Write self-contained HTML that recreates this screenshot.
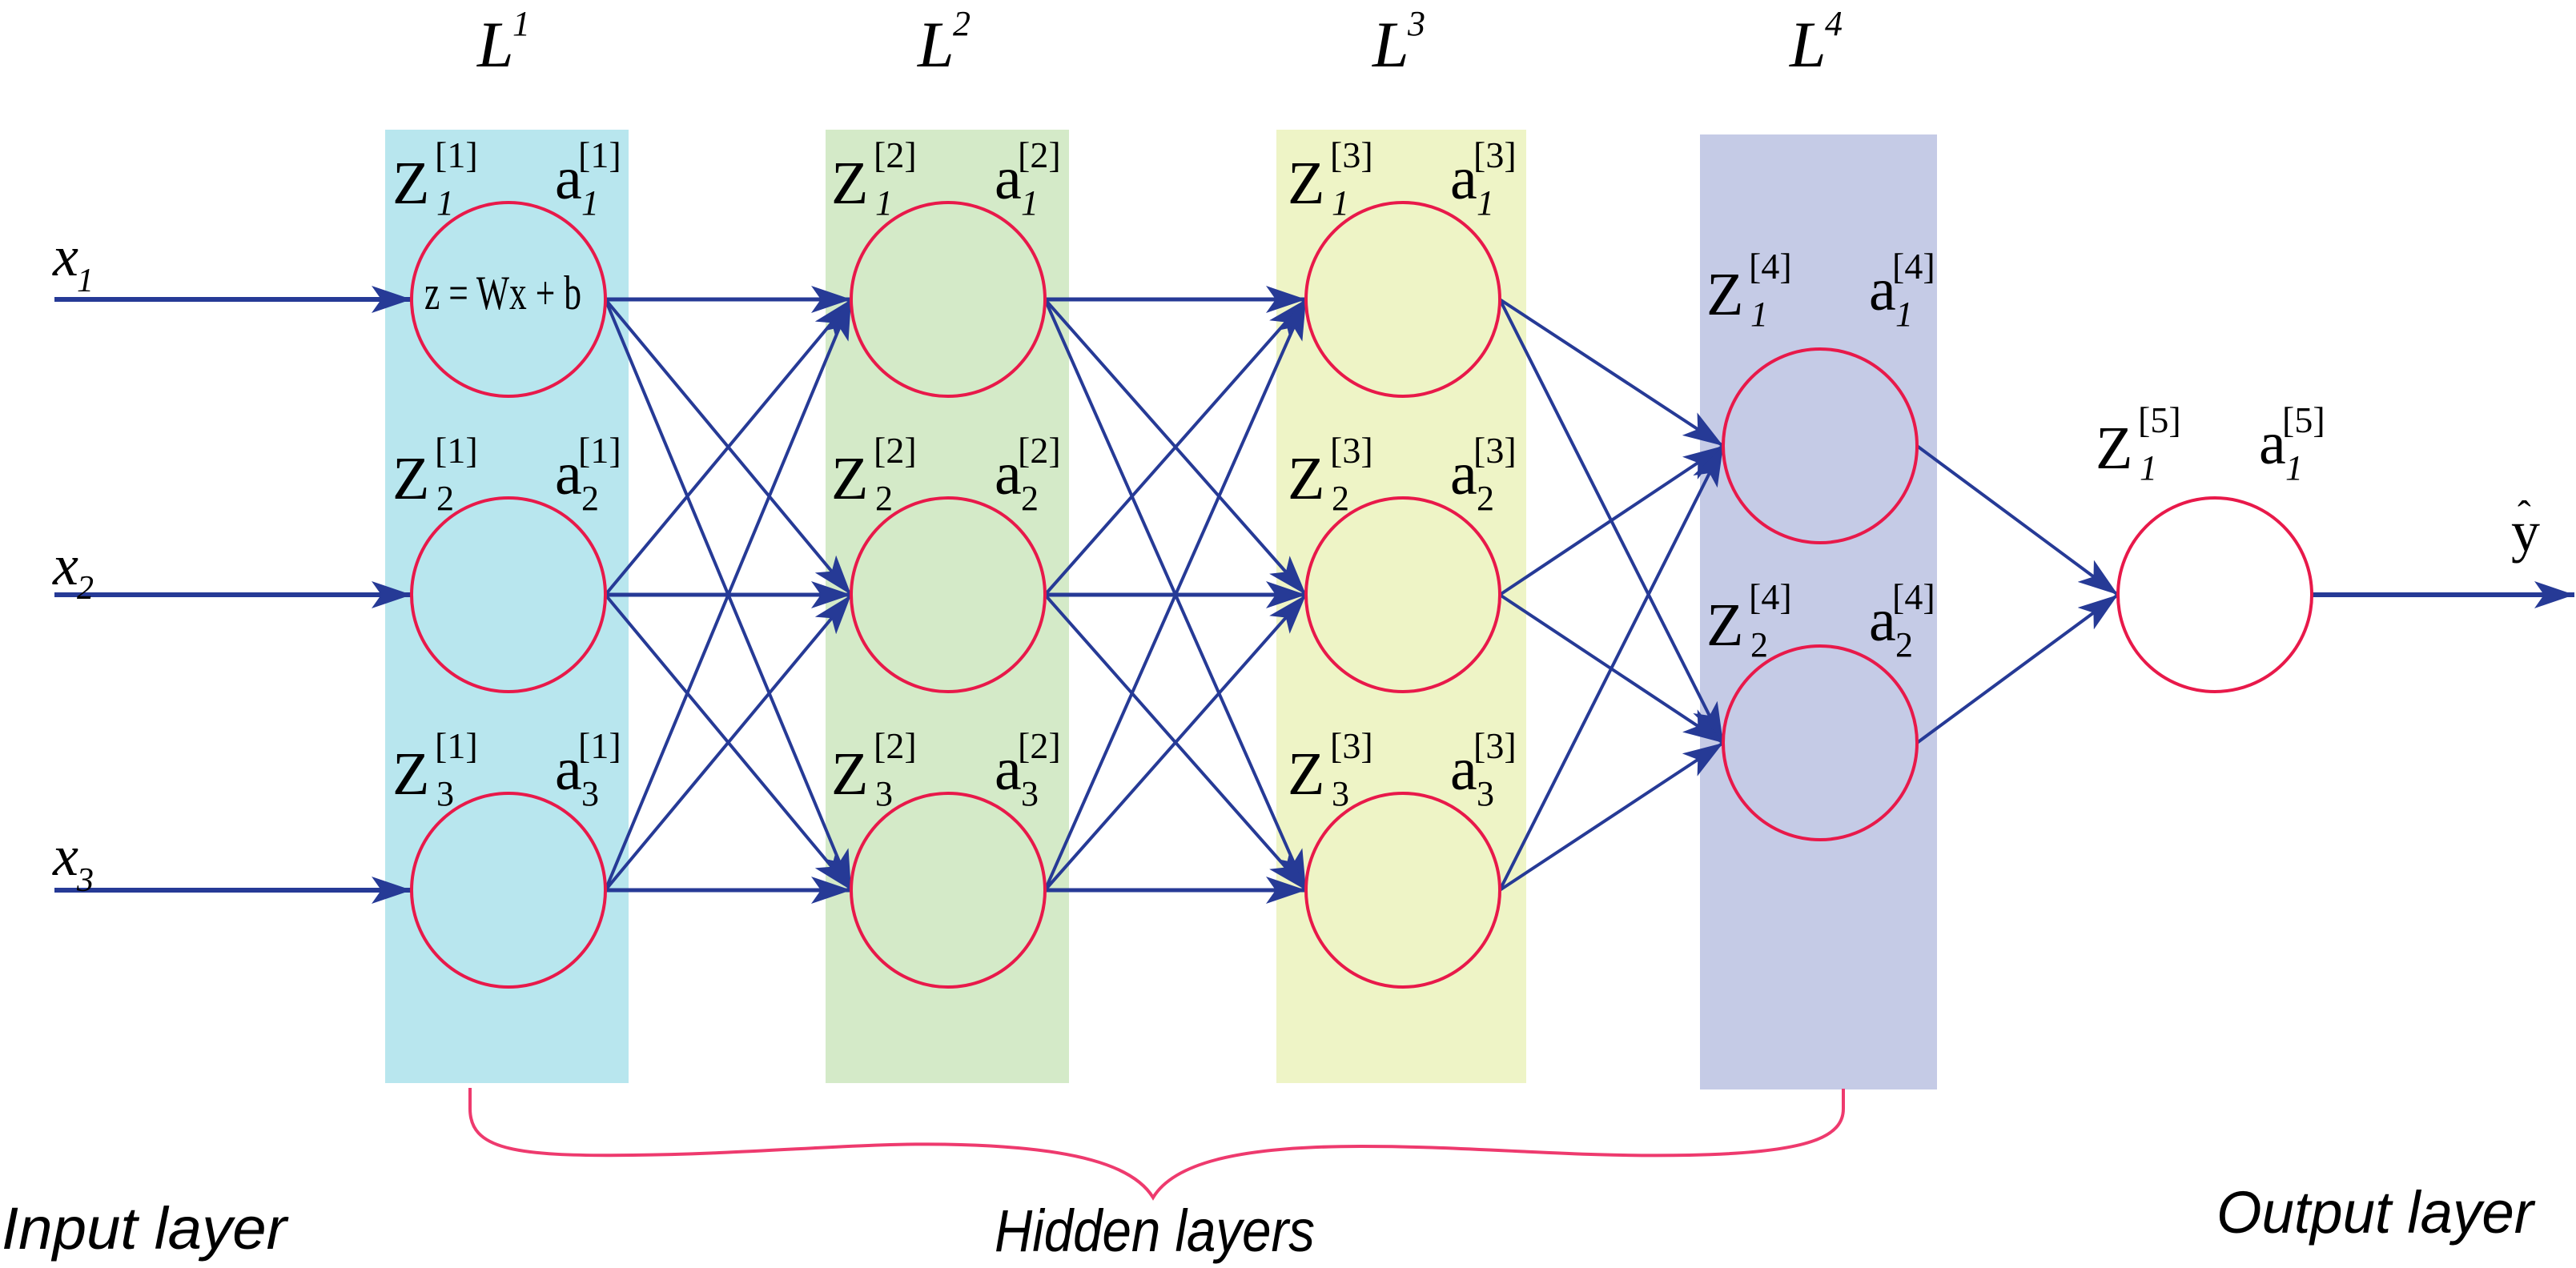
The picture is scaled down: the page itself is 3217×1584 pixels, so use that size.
<!DOCTYPE html>
<html><head><meta charset="utf-8"><style>
html,body{margin:0;padding:0;background:#fff}
svg{display:block}
</style></head><body>
<svg width="3217" height="1584" viewBox="0 0 3217 1584" xmlns="http://www.w3.org/2000/svg">
<defs>
<marker id="ah" markerUnits="userSpaceOnUse" markerWidth="52" markerHeight="34" refX="50" refY="17" orient="auto">
<path d="M0,0 L50,17 L0,34 L12,17 Z" fill="#263a96"/>
</marker>
</defs>
<rect x="481" y="162" width="304" height="1191" fill="#b8e6ee"/>
<rect x="1031" y="162" width="304" height="1191" fill="#d4eac8"/>
<rect x="1594" y="162" width="312" height="1191" fill="#eef4c6"/>
<rect x="2123" y="168" width="296" height="1193" fill="#c5cbe6"/>

<g stroke="#263a96" fill="none" marker-end="url(#ah)">
<line x1="68" y1="374" x2="514" y2="374" stroke-width="6"/>
<line x1="68" y1="743" x2="514" y2="743" stroke-width="6"/>
<line x1="68" y1="1112" x2="514" y2="1112" stroke-width="6"/>
<line x1="756" y1="374" x2="1063" y2="374" stroke-width="5"/>
<line x1="756" y1="374" x2="1063" y2="743" stroke-width="4"/>
<line x1="756" y1="374" x2="1063" y2="1112" stroke-width="4"/>
<line x1="756" y1="743" x2="1063" y2="374" stroke-width="4"/>
<line x1="756" y1="743" x2="1063" y2="743" stroke-width="5"/>
<line x1="756" y1="743" x2="1063" y2="1112" stroke-width="4"/>
<line x1="756" y1="1112" x2="1063" y2="374" stroke-width="4"/>
<line x1="756" y1="1112" x2="1063" y2="743" stroke-width="4"/>
<line x1="756" y1="1112" x2="1063" y2="1112" stroke-width="5"/>
<line x1="1305" y1="374" x2="1631" y2="374" stroke-width="5"/>
<line x1="1305" y1="374" x2="1631" y2="743" stroke-width="4"/>
<line x1="1305" y1="374" x2="1631" y2="1112" stroke-width="4"/>
<line x1="1305" y1="743" x2="1631" y2="374" stroke-width="4"/>
<line x1="1305" y1="743" x2="1631" y2="743" stroke-width="5"/>
<line x1="1305" y1="743" x2="1631" y2="1112" stroke-width="4"/>
<line x1="1305" y1="1112" x2="1631" y2="374" stroke-width="4"/>
<line x1="1305" y1="1112" x2="1631" y2="743" stroke-width="4"/>
<line x1="1305" y1="1112" x2="1631" y2="1112" stroke-width="5"/>
<line x1="1873" y1="374" x2="2152" y2="557" stroke-width="4"/>
<line x1="1873" y1="374" x2="2152" y2="928" stroke-width="4"/>
<line x1="1873" y1="743" x2="2152" y2="557" stroke-width="4"/>
<line x1="1873" y1="743" x2="2152" y2="928" stroke-width="4"/>
<line x1="1873" y1="1112" x2="2152" y2="557" stroke-width="4"/>
<line x1="1873" y1="1112" x2="2152" y2="928" stroke-width="4"/>
<line x1="2394" y1="557" x2="2645" y2="743" stroke-width="4"/>
<line x1="2394" y1="928" x2="2645" y2="743" stroke-width="4"/>
<line x1="2887" y1="743" x2="3215" y2="743" stroke-width="6"/>
</g>

<g stroke="#e8194a" stroke-width="4">
<circle cx="635" cy="374" r="121" fill="#b8e6ee"/>
<circle cx="635" cy="743" r="121" fill="#b8e6ee"/>
<circle cx="635" cy="1112" r="121" fill="#b8e6ee"/>
<circle cx="1184" cy="374" r="121" fill="#d4eac8"/>
<circle cx="1184" cy="743" r="121" fill="#d4eac8"/>
<circle cx="1184" cy="1112" r="121" fill="#d4eac8"/>
<circle cx="1752" cy="374" r="121" fill="#eef4c6"/>
<circle cx="1752" cy="743" r="121" fill="#eef4c6"/>
<circle cx="1752" cy="1112" r="121" fill="#eef4c6"/>
<circle cx="2273" cy="557" r="121" fill="#c5cbe6"/>
<circle cx="2273" cy="928" r="121" fill="#c5cbe6"/>
<circle cx="2766" cy="743" r="121" fill="#fff"/>
</g>

<g font-family="Liberation Serif, serif">
<text x="530" y="386" font-size="60" textLength="196" lengthAdjust="spacingAndGlyphs">z = Wx + b</text>

<g font-style="italic" font-size="82">
<text x="596" y="83">L</text><text x="640" y="44" font-size="44">1</text>
<text x="1146" y="83">L</text><text x="1190" y="44" font-size="44">2</text>
<text x="1714" y="83">L</text><text x="1758" y="44" font-size="44">3</text>
<text x="2235" y="83">L</text><text x="2279" y="44" font-size="44">4</text>
</g>

<g font-style="italic" font-size="72">
<text x="66" y="344">x</text><text x="96" y="364" font-size="42">1</text>
<text x="66" y="730">x</text><text x="96" y="748" font-size="42">2</text>
<text x="66" y="1093">x</text><text x="96" y="1113" font-size="42">3</text>
</g>

<g font-size="76">
<text x="490" y="254">Z</text><text x="543" y="209" font-size="46">[1]</text><text font-style="italic" x="545" y="268" font-size="44">1</text>
<text x="693" y="248">a</text><text x="722" y="209" font-size="46">[1]</text><text font-style="italic" x="726" y="268" font-size="44">1</text>
<text x="490" y="623">Z</text><text x="543" y="578" font-size="46">[1]</text><text x="545" y="637" font-size="44">2</text>
<text x="693" y="617">a</text><text x="722" y="578" font-size="46">[1]</text><text x="726" y="637" font-size="44">2</text>
<text x="490" y="992">Z</text><text x="543" y="947" font-size="46">[1]</text><text x="545" y="1006" font-size="44">3</text>
<text x="693" y="986">a</text><text x="722" y="947" font-size="46">[1]</text><text x="726" y="1006" font-size="44">3</text>

<text x="1038" y="254">Z</text><text x="1091" y="209" font-size="46">[2]</text><text font-style="italic" x="1093" y="268" font-size="44">1</text>
<text x="1242" y="248">a</text><text x="1271" y="209" font-size="46">[2]</text><text font-style="italic" x="1275" y="268" font-size="44">1</text>
<text x="1038" y="623">Z</text><text x="1091" y="578" font-size="46">[2]</text><text x="1093" y="637" font-size="44">2</text>
<text x="1242" y="617">a</text><text x="1271" y="578" font-size="46">[2]</text><text x="1275" y="637" font-size="44">2</text>
<text x="1038" y="992">Z</text><text x="1091" y="947" font-size="46">[2]</text><text x="1093" y="1006" font-size="44">3</text>
<text x="1242" y="986">a</text><text x="1271" y="947" font-size="46">[2]</text><text x="1275" y="1006" font-size="44">3</text>

<text x="1608" y="254">Z</text><text x="1661" y="209" font-size="46">[3]</text><text font-style="italic" x="1663" y="268" font-size="44">1</text>
<text x="1811" y="248">a</text><text x="1840" y="209" font-size="46">[3]</text><text font-style="italic" x="1844" y="268" font-size="44">1</text>
<text x="1608" y="623">Z</text><text x="1661" y="578" font-size="46">[3]</text><text x="1663" y="637" font-size="44">2</text>
<text x="1811" y="617">a</text><text x="1840" y="578" font-size="46">[3]</text><text x="1844" y="637" font-size="44">2</text>
<text x="1608" y="992">Z</text><text x="1661" y="947" font-size="46">[3]</text><text x="1663" y="1006" font-size="44">3</text>
<text x="1811" y="986">a</text><text x="1840" y="947" font-size="46">[3]</text><text x="1844" y="1006" font-size="44">3</text>

<text x="2131" y="393">Z</text><text x="2184" y="348" font-size="46">[4]</text><text font-style="italic" x="2186" y="407" font-size="44">1</text>
<text x="2334" y="387">a</text><text x="2363" y="348" font-size="46">[4]</text><text font-style="italic" x="2367" y="407" font-size="44">1</text>
<text x="2131" y="806">Z</text><text x="2184" y="761" font-size="46">[4]</text><text x="2186" y="820" font-size="44">2</text>
<text x="2334" y="800">a</text><text x="2363" y="761" font-size="46">[4]</text><text x="2367" y="820" font-size="44">2</text>

<text x="2617" y="585">Z</text><text x="2670" y="540" font-size="46">[5]</text><text font-style="italic" x="2672" y="599" font-size="44">1</text>
<text x="2821" y="579">a</text><text x="2850" y="540" font-size="46">[5]</text><text font-style="italic" x="2854" y="599" font-size="44">1</text>
</g>
<text x="3136" y="688" font-size="72">y</text>
<text x="3144" y="660" font-size="50">ˆ</text>
</g>

<path d="M587,1359 L587,1385 C587,1435 640,1445 790,1443 C960,1441 1080,1426 1200,1430 C1340,1434 1415,1455 1440,1496 C1465,1455 1540,1432 1700,1432 C1850,1432 1960,1446 2110,1443 C2260,1440 2302,1420 2302,1385 L2302,1360" fill="none" stroke="#ee3a6e" stroke-width="4"/>

<g font-family="Liberation Sans, sans-serif" font-style="italic" font-size="74">
<text x="2" y="1560" textLength="356" lengthAdjust="spacingAndGlyphs">Input layer</text>
<text x="1242" y="1563" textLength="400" lengthAdjust="spacingAndGlyphs">Hidden layers</text>
<text x="2768" y="1540" textLength="396" lengthAdjust="spacingAndGlyphs">Output layer</text>
</g>
</svg>
</body></html>
